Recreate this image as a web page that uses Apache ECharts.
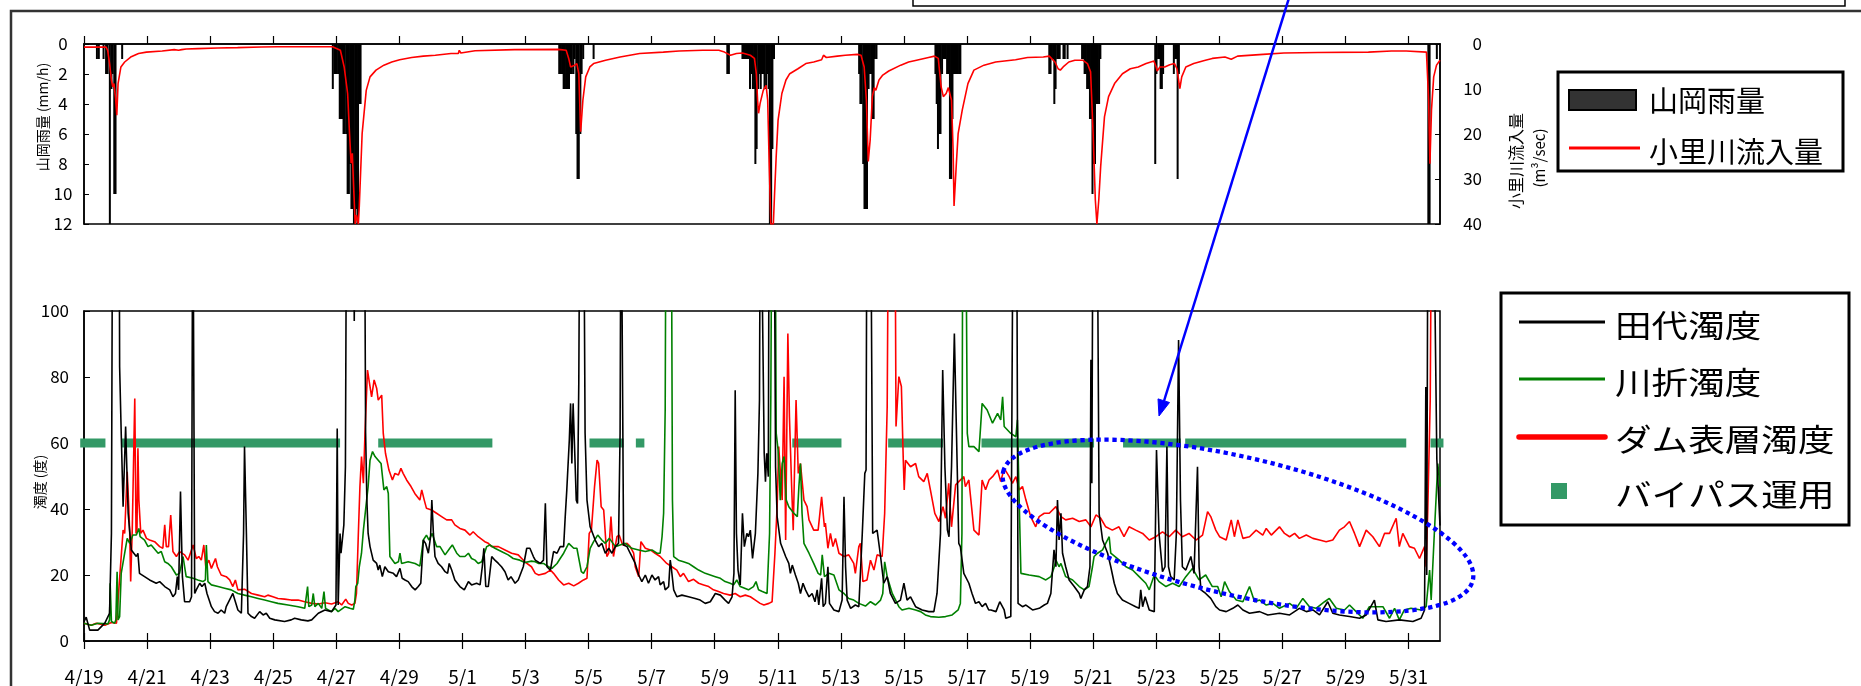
<!DOCTYPE html>
<html>
<head>
<meta charset="utf-8">
<script src="https://cdn.jsdelivr.net/npm/echarts@6/dist/echarts.min.js"></script>
<style>
html,body{margin:0;padding:0;background:#fff;}
#c{width:1861px;height:686px;}
</style>
</head>
<body>
<div id="c"></div>
<script>
// Day offsets are counted from 4/19 00:00 (0) to 6/1 00:00 (43).
const dateLabels = ['4/19','4/21','4/23','4/25','4/27','4/29','5/1','5/3','5/5','5/7','5/9',
  '5/11','5/13','5/15','5/17','5/19','5/21','5/23','5/25','5/27','5/29','5/31'];

// 山岡雨量 (mm/h), hourly
const rainfall = [
 [0.41,1],[0.47,1],[0.62,1],[0.70,2],[0.75,2],[0.82,12],[0.87,3],[0.91,2],[0.96,10],[1.00,10],[1.21,1],
 [7.89,3],[7.94,2],[7.98,2],[8.02,2],[8.07,2],[8.11,5],[8.15,5],[8.19,5],[8.23,6],[8.27,6],[8.32,6],[8.36,10],
 [8.40,10],[8.44,8],[8.48,11],[8.52,11],[8.56,12],[8.61,12],[8.65,11],[8.69,12],[8.73,4],[8.77,4],
 [15.07,2],[15.12,2],[15.16,2],[15.21,3],[15.25,3],[15.29,3],[15.34,3],[15.38,3],[15.43,2],[15.47,2],[15.52,2],
 [15.56,1],[15.61,6],[15.65,9],[15.69,9],[15.74,6],[15.78,2],[15.83,1],[16.16,1],
 [20.40,2],[20.45,2],[20.88,1],[20.92,1],[20.96,1],[21.00,1],[21.04,1],[21.08,1],[21.12,3],[21.17,2],[21.21,3],
 [21.25,3],[21.29,8],[21.33,7],[21.38,3],[21.42,2],[21.46,3],[21.50,2],[21.54,2],[21.58,3],[21.63,3],[21.67,2],
 [21.71,3],[21.75,12],[21.79,12],[21.83,7],[21.88,1],
 [24.58,2],[24.62,4],[24.66,4],[24.71,8],[24.75,11],[24.79,11],[24.83,11],[24.88,3],[24.92,2],[24.96,2],[25.00,5],
 [25.04,5],[25.08,1],[25.13,1],
 [27.00,2],[27.04,4],[27.08,7],[27.12,6],[27.16,6],[27.21,2],[27.25,1],[27.29,1],[27.33,1],[27.37,2],[27.42,2],
 [27.46,9],[27.50,9],[27.54,5],[27.58,2],[27.62,2],[27.67,2],[27.71,2],[27.75,2],[27.79,2],
 [30.61,2],[30.65,2],[30.69,1],[30.73,1],[30.77,4],[30.81,3],[30.86,1],[30.90,1],[30.94,1],[31.06,1],[31.10,1],[31.19,1],
 [31.65,1],[31.69,1],[31.73,2],[31.77,2],[31.81,3],[31.86,3],[31.90,5],[31.94,5],[31.98,10],[32.02,8],[32.06,8],
 [32.10,4],[32.15,4],[32.19,4],[32.23,1],
 [33.97,8],[34.01,2],[34.06,1],[34.10,1],[34.14,3],[34.18,3],[34.22,2],[34.56,2],[34.60,1],[34.64,1],[34.68,9],[34.72,2],
 [42.63,12],[42.67,12],[42.90,1]
];

// 小里川流入量 (m3/sec)
const inflow = [
 [0,0.7],[0.70,0.7],[0.75,1.4],[0.81,4.3],[0.87,8],[0.91,9.5],[0.95,8.8],[1.00,12],[1.04,15.8],[1.08,8.8],[1.17,5.1],
 [1.29,4.0],[1.48,2.9],[1.73,2.1],[1.98,1.8],[2.48,1.55],[2.86,1.25],[3.00,1.4],[3.10,1.25],[3.24,1.1],[3.61,1.03],
 [4.24,0.9],[4.87,0.8],[5.62,0.66],[6.12,0.6],[7.88,0.6],
 [8.13,1.4],[8.25,5.1],[8.36,11],[8.42,19.9],[8.47,26.5],[8.51,24.3],[8.55,31.7],[8.60,40],[8.64,38],[8.70,40],[8.73,36],
 [8.82,19.9],[8.95,10.3],[9.07,7.3],[9.26,5.8],[9.51,4.7],[9.76,4.0],[10.01,3.5],[10.39,3.0],[10.76,2.7],[11.14,2.5],
 [11.64,2.1],[11.87,2.1],[11.90,1.4],[11.95,2.0],[12.40,1.5],[13.65,1.25],[15.04,1.2],
 [15.29,1.4],[15.37,3.2],[15.43,5.1],[15.56,4.7],[15.63,4.35],[15.69,6.6],[15.75,19.5],[15.82,12.5],[15.91,7.3],
 [16.04,5.1],[16.16,4.35],[16.54,3.6],[17.00,2.9],[17.62,2.1],[18.37,1.8],[18.87,1.55],[19.62,1.4],[20.13,1.4],
 [20.31,1.8],[20.50,2.5],[20.69,2.1],[20.88,2.0],[21.13,2.5],[21.26,3.2],[21.32,6.6],[21.36,12.5],[21.39,15.4],
 [21.44,13.2],[21.54,10.3],[21.63,9.2],[21.68,12.5],[21.73,27.2],[21.78,40],[21.86,40],[21.90,33],[21.95,25],
 [22.01,16.9],[22.13,11],[22.26,8],[22.38,6.6],[22.64,5.5],[22.89,4.35],[23.14,4.0],[23.39,3.5],[23.45,2.5],
 [23.54,3.0],[23.89,2.7],[24.14,2.5],[24.52,2.3],
 [24.64,2.5],[24.74,5.1],[24.81,12.5],[24.87,26.1],[24.93,21.3],[25.00,11.7],[25.06,9.7],[25.11,10.3],[25.21,8.0],
 [25.33,6.9],[25.52,6.0],[25.90,4.7],[26.15,4.0],[26.40,3.6],[26.78,3.0],[26.97,2.7],
 [27.09,3.2],[27.18,9.5],[27.25,11.7],[27.34,11.0],[27.41,9.7],[27.51,12.5],[27.56,23.5],[27.59,36],[27.66,27],
 [27.72,19.9],[27.85,14.7],[28.03,8.8],[28.22,5.8],[28.54,4.7],[28.91,4.0],[29.54,3.5],[29.92,3.0],[30.42,2.9],[30.61,2.7],
 [30.67,3.0],[30.79,4.0],[30.89,5.5],[30.96,5.8],[31.05,5.1],[31.23,4.0],[31.42,3.6],[31.67,3.6],[31.82,4.35],
 [31.92,6.2],[32.00,19.9],[32.07,34.6],[32.12,40],[32.18,34.6],[32.24,27.2],[32.36,16.2],[32.49,11.7],[32.68,8.8],
 [32.93,6.6],[33.18,5.5],[33.43,5.1],[33.68,4.35],[33.93,3.8],
 [34.00,5.1],[34.03,6.0],[34.12,5.1],[34.18,4.7],[34.27,5.1],[34.43,4.6],[34.58,4.35],[34.66,5.5],[34.75,9.9],
 [34.81,7.3],[34.94,5.1],[35.19,4.35],[35.56,3.6],[35.78,3.2],[36.18,2.9],[36.38,3.4],[36.58,2.7],[37.39,2.3],
 [38.05,2.0],[39.12,1.9],[40.73,1.8],[41.46,1.55],[41.93,1.55],[42.57,1.8],[42.64,12.5],[42.68,26.6],[42.73,14.7],
 [42.80,7.3],[42.89,4.7],[43.00,3.6]
];

// 田代濁度 (度)
const tashiro = [
 [0,5.9],[0.07,7.2],[0.18,3.3],[0.44,3.3],[0.66,5.4],[0.81,8.4],[0.87,32.6],[0.91,150],[1.11,150],[1.13,83],[1.18,63],
 [1.24,40.7],[1.32,65],[1.40,38.7],[1.50,27.6],[1.66,25.6],[1.71,26.6],[1.76,20.5],[1.92,19.5],[2.08,18.5],[2.29,17.5],
 [2.40,18],[2.56,16.5],[2.72,15.5],[2.82,13.4],[2.90,14.4],[2.96,19.5],[3.00,15.5],[3.06,45.3],[3.12,19.5],[3.19,11.9],
 [3.35,11.9],[3.41,13.4],[3.45,150],[3.48,150],[3.51,14.4],[3.56,15.5],[3.67,17.5],[3.74,16.5],[3.83,17.5],[3.90,14.4],
 [4.04,10.4],[4.14,8.9],[4.25,8.4],[4.35,9.4],[4.46,8.4],[4.51,10.4],[4.72,14.4],[4.88,9.4],[4.99,8.4],[5.06,32.6],
 [5.09,58.9],[5.15,32.6],[5.20,8.4],[5.31,7.4],[5.41,6.9],[5.57,8.9],[5.68,7.9],[5.78,8.4],[5.89,6.9],[6.05,6.4],
 [6.36,5.9],[6.57,6.4],[6.68,6.9],[6.89,6.4],[7.10,6.1],
 [7.22,6.4],[7.43,8.4],[7.64,9.4],[7.85,8.9],[7.99,10.9],[8.03,64.4],[8.06,10.9],[8.12,32.6],[8.15,26.6],[8.24,35.2],
 [8.29,52.8],[8.33,150],[8.54,150],[8.57,97],[8.61,150],[8.89,150],[8.93,63],[8.97,42.7],[9.01,32.6],[9.07,28.6],
 [9.17,24.5],[9.28,23.5],[9.33,21.5],[9.38,23],[9.46,19.5],[9.54,22.5],[9.65,21],[9.81,20.5],[9.91,19.5],[10.02,22],
 [10.09,19],[10.18,18.5],[10.28,18],[10.39,16.5],[10.50,15.5],[10.60,16.5],[10.68,17.5],[10.76,30.6],[10.83,29.6],
 [10.92,26.6],[10.99,31.6],[11.03,42.7],[11.08,32.6],[11.13,25.6],[11.23,23.5],[11.34,22.5],[11.45,21],[11.53,20.5],
 [11.58,23.5],[11.66,21.5],[11.76,18.5],[11.92,16.5],[12.06,15.5],[12.19,18],[12.29,17],[12.45,17.5],[12.56,17],
 [12.63,22.5],[12.68,28.1],[12.74,16.5],[12.82,16.5],[12.93,25.6],[13.03,24.5],[13.14,23.5],[13.24,22.5],[13.35,21],
 [13.45,18.5],[13.54,19.5],[13.67,17.5],[13.77,18.5],[13.93,22.5],[14.04,28.1],[14.14,28.1],[14.25,25.6],
 [14.31,24.5],[14.47,23.5],[14.57,24.5],[14.63,41.7],[14.68,22.5],[14.79,21.5],[14.89,27.1],[15.00,26.6],[15.10,28.6],
 [15.21,28.6],[15.26,37.7],[15.31,45.8],[15.39,60.9],[15.43,72],[15.47,53.8],[15.51,72],[15.57,54.8],[15.61,42.7],
 [15.65,41.7],[15.69,78],[15.73,150],[15.84,150],[15.89,63],[15.95,42.7],[16.05,34.6],[16.21,30.6],[16.32,28.6],
 [16.42,29.6],[16.53,26.6],[16.64,28.1],[16.74,26.6],[16.85,28.6],[16.95,29.6],[17.00,63],[17.03,150],[17.07,150],
 [17.11,29.1],[17.22,28.6],[17.32,26.6],[17.43,24.5],[17.48,23.5],[17.59,20],[17.69,18],[17.80,20],[17.90,17.5],
 [18.01,20],[18.11,18.5],[18.22,19.5],[18.27,17],[18.38,18],[18.43,15.5],[18.54,16.5],[18.59,24.5],[18.62,22.5],
 [18.70,15.5],[18.80,13.4],[18.96,13.9],[19.17,13.4],[19.38,12.9],[19.54,12.4],[19.70,11.4],[19.86,11.9],[20.02,14.4],
 [20.18,13.9],[20.33,12.4],[20.44,11.4],[20.55,13.4],[20.61,20.5],[20.65,76],[20.69,32.6],[20.74,21.5],[20.81,17],
 [20.88,38.7],[20.94,28.6],[21.02,32.6],[21.07,31.6],[21.13,33.6],[21.20,25],[21.29,32.6],[21.37,50.8],[21.42,73],
 [21.45,150],[21.51,150],[21.53,89],[21.57,56.9],[21.61,48.3],[21.65,56.9],[21.70,49.8],[21.73,150],[21.88,150],
 [21.93,52.8],[21.98,37.7],[22.09,29.6],[22.25,25.6],[22.35,23.5],[22.40,20.5],[22.46,23],[22.56,20],[22.65,17.5],
 [22.72,14.4],[22.80,17.5],[22.88,15.5],[22.99,13.4],[23.09,14.4],[23.18,11.9],[23.25,15.5],[23.30,10.9],[23.39,19],
 [23.44,10.4],[23.51,11.4],[23.59,22.5],[23.64,11.4],[23.78,9.4],[23.94,8.9],[24.04,12.4],[24.10,43.7],[24.15,22.5],
 [24.20,12.4],[24.31,9.9],[24.46,10.9],[24.57,10.4],[24.68,32.6],[24.76,50.8],[24.80,51.8],[24.83,150],[24.94,150],
 [25.01,32.6],[25.15,33.6],[25.26,25.6],[25.36,17.5],[25.47,19.5],[25.57,14.4],[25.73,11.4],[25.89,12.4],[26.00,17.5],
 [26.10,12.4],[26.21,13.4],[26.37,10.4],[26.58,9.4],[26.79,8.9],[26.95,8.9],[27.05,14.4],[27.16,32.6],[27.23,82.1],
 [27.30,52.8],[27.38,33.6],[27.43,31.6],[27.51,52.8],[27.60,93.2],[27.69,52.8],[27.74,29.6],[27.79,28.6],[27.90,20.5],
 [28.06,17.5],[28.16,14.4],[28.27,11.4],[28.38,11.9],[28.48,10.4],[28.59,11.4],[28.69,9.4],
 [28.76,9.4],[28.92,8.9],[29.04,11.9],[29.18,9.4],[29.23,6.9],[29.39,7.4],[29.43,6.9],[29.47,150],[29.57,150],
 [29.62,11.4],[29.76,10.4],[29.87,10.9],[30.08,9.4],[30.29,9.9],[30.45,10.9],[30.55,11.4],[30.66,14.4],[30.76,27.6],
 [30.82,22.5],[30.87,42.7],[30.92,30.6],[30.98,38.7],[31.03,26.6],[31.13,22.5],[31.24,18.5],[31.40,16.5],[31.56,14.4],
 [31.61,12.9],[31.72,15.5],[31.82,16.5],[31.90,22.5],[31.93,85.2],[31.96,47.8],[32.00,150],[32.12,150],[32.19,38.7],
 [32.30,30.6],[32.46,26.6],[32.56,22.5],[32.67,17.5],[32.77,14.4],[32.93,12.4],[33.14,11.4],[33.35,10.4],[33.46,9.9],
 [33.51,15.5],[33.57,10.4],[33.65,13.4],[33.78,9.4],[33.94,8.9],[34.01,57.9],[34.09,32.6],[34.20,21],[34.28,22.5],
 [34.34,58.9],[34.39,22.5],[34.46,19.5],[34.57,18.5],[34.64,32.6],[34.71,91.2],[34.77,42.7],[34.83,22.5],[34.94,21.5],
 [35.10,25.6],[35.20,20.5],[35.31,52.8],[35.36,22.5],[35.42,15.5],[35.57,14.4],[35.73,12.9],[35.89,10.4],
 [36.01,9.4],[36.22,8.9],[36.43,9.9],[36.59,10.9],[36.75,9.4],[36.96,8.4],[37.28,8.9],[37.54,7.9],[37.91,8.4],
 [38.23,7.9],[38.54,9.9],[38.76,8.9],[38.97,9.4],[39.18,7.9],[39.44,11.9],[39.60,8.4],[39.81,7.9],[40.13,7.4],
 [40.45,6.9],[40.66,7.9],[40.92,12.4],[41.03,6.4],[41.29,5.9],[41.71,6.4],[42.14,5.9],[42.40,6.9],[42.51,9.4],
 [42.55,77],[42.58,20],[42.62,150],[42.78,150],[42.90,55],[43.00,35]
];

// 川折濁度 (度)
const kawaori = [
 [0,5.4],[0.23,4.8],[0.44,5.4],[0.76,5.2],[0.81,6.4],[0.83,17.5],[0.87,5.9],[0.97,5.4],[1.01,6.4],[1.05,21],[1.08,6.4],
 [1.13,7.4],[1.18,20.5],[1.29,26.6],[1.37,31.1],[1.45,29.6],[1.55,32.1],[1.66,32.1],[1.71,32.6],[1.74,34.1],[1.78,31.6],
 [1.92,30.6],[2.03,28.6],[2.13,29.1],[2.35,26.6],[2.45,27.1],[2.56,24],[2.66,23.5],[2.77,22.5],[2.93,20],[3.03,20.5],
 [3.14,25.6],[3.24,19.5],[3.46,19],[3.61,18.5],[3.77,18],[3.85,18.5],[3.88,29.1],[3.93,18],[4.04,17],[4.25,16.5],
 [4.46,16],[4.67,15.5],[4.88,14.4],[5.09,13.9],[5.31,13.4],[5.52,12.9],[5.73,12.4],[5.94,11.9],[6.15,11.4],[6.47,10.9],
 [6.79,10.4],[7.00,9.9],[7.06,9.9],[7.09,16.5],[7.13,10.4],[7.22,10.9],[7.27,14.4],[7.32,10.4],[7.43,11.4],[7.54,9.9],
 [7.61,15],[7.66,9.9],[7.85,8.9],[7.96,9.9],[8.06,8.9],[8.28,10.4],[8.43,9.9],[8.54,9.6],[8.59,12.4],[8.62,16.5],
 [8.68,17.5],[8.73,22.5],[8.80,26.6],[8.86,33.6],[8.94,40.7],[9.01,46.8],[9.07,54.8],[9.15,57.4],[9.23,55.9],[9.33,54.8],
 [9.42,53.8],[9.51,45.8],[9.60,46.8],[9.65,44.7],[9.70,25.6],[9.86,23.5],[9.97,24],[10.02,26.6],[10.07,23.5],[10.28,24],
 [10.50,23.5],[10.65,22.7],[10.76,30.6],[10.86,32.1],[10.94,30.6],[11.04,32.6],[11.18,28.6],[11.29,28.6],[11.45,26.1],
 [11.60,28.1],[11.68,29.1],[11.82,26.6],[11.92,25.6],[12.08,25.6],[12.19,26.6],[12.29,25],[12.40,24.5],[12.50,23.5],
 [12.61,24],[12.77,28.6],[12.87,29.1],[13.03,28.1],[13.14,27.6],[13.30,26.8],[13.45,26.1],[13.61,25],[13.82,24.5],
 [13.98,23.8],[14.19,24.2],
 [14.31,24],[14.42,23.5],[14.57,23.5],[14.73,22.5],[14.84,22],[15.00,23.5],[15.10,25],[15.21,26.6],[15.37,29.6],
 [15.53,28.1],[15.63,28.1],[15.77,21],[15.84,20.5],[15.95,22.5],[16.05,28.1],[16.16,30.1],[16.29,32.1],[16.42,30.6],
 [16.53,29.6],[16.66,31.1],[16.85,28.6],[17.00,29.1],[17.16,29.6],[17.37,28.1],[17.59,27.6],[17.80,27.1],[18.01,27.6],
 [18.17,26.6],[18.27,26.6],[18.33,31.6],[18.38,38.7],[18.43,70],[18.46,150],[18.62,150],[18.66,42.7],[18.70,25.6],
 [18.85,24.5],[19.01,24],[19.17,23.5],[19.33,22.5],[19.49,21.5],[19.70,20.5],[19.86,20],[20.02,19.5],[20.18,19],
 [20.33,18],[20.49,17.5],[20.60,17],[20.70,18.5],[20.81,16.5],[21.07,15.5],[21.23,16.5],[21.31,18],[21.39,15.5],
 [21.51,15],[21.66,14.4],[21.74,32.6],[21.78,74],[21.82,150],[21.91,150],[21.95,63],[22.01,57.9],[22.08,42.7],
 [22.14,53.8],[22.20,55.9],[22.27,42.7],[22.35,40.7],[22.51,38.7],[22.62,37.7],[22.67,46.8],[22.72,53.8],[22.77,38.7],
 [22.83,29.6],[22.99,26.6],[23.14,23.5],[23.28,20.5],[23.36,20],[23.41,26.1],[23.48,19.5],[23.62,20.5],[23.78,20],
 [23.94,15.5],[24.10,14.4],[24.25,12.9],[24.41,12.4],[24.57,11.4],[24.78,10.6],[24.94,11.9],[25.10,10.9],[25.26,12.4],
 [25.33,14.4],[25.39,24],[25.47,19.5],[25.63,14.4],[25.84,10.4],[25.94,9.4],[26.16,9.9],[26.37,9.4],[26.53,8.9],
 [26.68,7.9],[26.84,7.4],[27.11,7.2],[27.32,7.4],[27.53,7.9],[27.72,9.4],[27.79,11.4],[27.84,32.6],[27.87,150],
 [27.95,150],[28.01,62.9],[28.06,58.9],[28.22,58.9],[28.38,57.4],[28.48,72],[28.64,70],
 [28.70,70],[28.81,66],[28.97,69],[29.07,67],[29.13,74],[29.18,65],[29.39,62.9],[29.55,61.9],[29.60,67],[29.66,40.7],
 [29.71,20.5],[29.97,20],[30.29,19.5],[30.50,18.5],[30.66,19.5],[30.77,22.5],[30.82,24.5],[30.92,22.5],[30.98,23.5],
 [31.13,19.5],[31.35,18.5],[31.56,16.5],[31.72,15.5],[31.87,16.5],[31.98,22.5],[32.03,25.6],[32.14,26.6],[32.30,27.6],
 [32.40,29.6],[32.51,31.6],[32.56,26.6],[32.62,26.6],[32.83,24.5],[33.04,22.5],[33.25,21.5],[33.46,19.5],[33.67,17.5],
 [33.78,15.5],[33.94,20],[34.09,18],[34.31,16.5],[34.52,17.5],[34.73,16.5],[34.94,19.5],[35.15,22],[35.36,18.5],
 [35.57,20],[35.78,16.5],
 [35.95,16.5],[36.06,13.4],[36.17,18],[36.32,15],[36.54,12.4],[36.75,11.9],[36.96,16.5],[37.12,11.9],[37.28,12.4],
 [37.49,10.9],[37.70,11.4],[37.91,9.9],[38.23,11.4],[38.44,9.9],[38.65,12.9],[38.86,10.4],[39.07,9.9],[39.34,11.9],
 [39.49,12.9],[39.71,9.9],[39.97,9.4],[40.13,10.9],[40.34,8.9],[40.55,6.9],[40.76,10.4],[40.97,10.4],[41.19,10.4],
 [41.40,6.9],[41.56,9.9],[41.71,6.4],[41.87,9.4],[42.08,9.9],[42.40,9.4],[42.56,10.4],[42.67,21.5],[42.72,12.4],
 [42.82,32.6],[42.93,53.8],[43.00,46.8]
];

// ダム表層濁度 (度)
const damSurface = [
 [0,5.4],[0.23,4.8],[0.39,5.4],[0.66,4.8],[0.87,5.6],[1.03,5.4],[1.08,12.4],[1.24,33.6],[1.29,32.6],[1.37,51.3],
 [1.42,40.7],[1.45,32.6],[1.48,18],[1.53,33.6],[1.61,73.5],[1.65,32.6],[1.68,33.6],[1.71,58.4],[1.74,42.7],[1.80,32.6],
 [1.87,33.6],[1.98,31.1],[2.08,30.6],[2.24,30.1],[2.40,28.6],[2.50,28.1],[2.56,35.2],[2.61,28.6],[2.68,28.6],[2.75,38.2],
 [2.82,27.1],[2.93,25.6],[3.03,27.1],[3.19,26.1],[3.30,24.5],[3.46,29.1],[3.56,25],[3.64,25.6],[3.72,24.5],[3.80,29.1],
 [3.86,22.5],[3.96,24.5],[4.04,22],[4.17,25],[4.23,22.5],[4.35,20],[4.51,19.5],[4.62,18.5],[4.72,16.5],[4.80,18.5],
 [4.88,15.5],[5.09,15.7],[5.31,14.4],[5.52,13.9],[5.73,13.4],[5.83,13.9],[5.99,13.4],[6.15,12.9],[6.36,12.7],[6.57,12.4],
 [6.79,12.4],[7.00,11.9],[7.22,11.4],[7.43,11.2],[7.64,11.6],[7.85,11.2],[8.06,11.9],[8.17,10.9],[8.30,12.7],[8.38,11.4],
 [8.49,10.9],[8.59,11.4],[8.64,14.4],[8.70,32.6],[8.75,46.8],[8.80,55.9],[8.86,47.8],[8.91,62.9],[8.96,75],[8.99,82.1],
 [9.07,77.1],[9.12,74],[9.20,79.1],[9.28,76.6],[9.33,73],[9.38,73],[9.44,74.5],[9.49,62.9],[9.56,56.9],[9.67,51.8],
 [9.78,48.8],[9.86,50.8],[9.97,50.3],[10.05,52.3],[10.12,50.8],[10.23,48.8],[10.37,46.8],[10.49,44.7],[10.65,42.7],
 [10.71,45.8],[10.79,42.7],[10.86,40.2],[11.02,39.7],[11.18,38.7],[11.34,37.7],[11.50,36.7],[11.66,36.7],[11.76,35.2],
 [11.92,34.1],[12.08,33.6],[12.24,32.1],[12.34,33.1],[12.50,31.6],[12.71,30.1],[12.82,29.6],[12.93,28.6],[13.14,28.6],
 [13.35,27.6],[13.56,26.6],[13.77,26.1],[13.98,24],[14.19,22.5],
 [14.31,20.5],[14.42,20],[14.63,20.5],[14.79,21.5],[14.89,20.5],[15.05,18.5],[15.21,17],[15.37,17.5],[15.53,16.7],
 [15.68,17.5],[15.84,18.5],[15.95,19],[16.02,32.6],[16.09,33.6],[16.19,46.8],[16.27,54.8],[16.32,53.8],[16.40,40.7],
 [16.48,39.7],[16.58,25.6],[16.64,26.6],[16.71,37.7],[16.79,25.6],[16.90,31.6],[16.97,32.1],[17.08,29.1],[17.22,29.6],
 [17.32,28.6],[17.43,26.6],[17.48,22.5],[17.59,19.5],[17.66,30.1],[17.80,28.1],[17.96,27.6],[18.11,26.6],[18.27,25.6],
 [18.48,23.5],[18.64,22.5],[18.80,21.5],[18.91,19.5],[19.01,20.5],[19.17,18],[19.33,18.7],[19.49,17.5],[19.65,17],
 [19.81,16.5],[19.96,15.5],[20.12,15],[20.28,14.4],[20.49,13.9],[20.65,14.4],[20.81,13.4],[20.97,13.9],[21.13,13.4],
 [21.29,12.4],[21.44,11.4],[21.56,10.9],[21.72,11.4],[21.82,11.9],[21.91,26.6],[21.98,40.7],[22.03,58.9],[22.09,58.9],
 [22.14,42.7],[22.20,80.1],[22.25,30.6],[22.32,93.2],[22.37,68],[22.44,46.8],[22.49,33.6],[22.58,73],[22.65,50.8],
 [22.72,53.8],[22.83,42.7],[22.93,40.7],[22.99,36.7],[23.14,33.6],[23.28,33.6],[23.39,43.7],[23.48,34.6],[23.51,35.7],
 [23.59,28.1],[23.67,32.6],[23.75,28.6],[23.83,31.1],[23.94,26.6],[24.10,25.6],[24.25,26.1],[24.41,23.5],[24.46,20.5],
 [24.57,28.6],[24.62,29.6],[24.70,18],[24.83,18.5],[24.94,24.5],[25.05,21.5],[25.15,26.1],[25.31,25.6],[25.39,38.7],
 [25.47,71],[25.52,150],[25.71,150],[25.75,65],[25.84,80.1],[25.92,77.1],[25.98,54.8],[26.01,45.8],[26.05,54.8],
 [26.21,52.8],[26.37,53.8],[26.47,49.8],[26.63,48.3],[26.74,50.8],[26.84,45.8],[26.98,38.7],[27.11,36.2],[27.24,40.7],
 [27.32,37.2],[27.42,47.8],[27.51,34.6],[27.64,47.3],[27.74,48.3],[27.90,49.8],[27.95,46.8],[28.06,48.8],[28.22,33.6],
 [28.38,32.1],[28.48,48.8],[28.59,45.8],
 [28.70,48.8],[28.81,49.8],[28.97,51.8],[29.07,48.3],[29.18,52.3],[29.34,49.8],[29.44,47.8],[29.55,49.8],[29.66,45.8],
 [29.76,46.8],[29.87,42.7],[30.02,37.7],[30.18,34.6],[30.29,37.7],[30.45,38.7],[30.61,38.7],[30.82,40.7],[30.98,37.7],
 [31.13,36.7],[31.35,37.2],[31.56,36.2],[31.77,36.7],[31.93,34.6],[32.09,38.2],[32.24,37.2],[32.40,34.6],[32.61,33.6],
 [32.82,34.6],[32.98,31.6],[33.14,34.6],[33.35,33.6],[33.57,32.6],[33.78,30.6],[33.99,31.6],[34.20,33.1],[34.41,31.6],
 [34.62,33.6],[34.83,31.6],[35.04,32.6],[35.26,30.6],[35.47,32.1],[35.63,39.2],[35.73,37.7],[35.89,33.6],
 [36.01,31.6],[36.22,30.6],[36.38,36.7],[36.48,31.6],[36.59,36.7],[36.75,31.1],[36.96,31.6],[37.17,33.6],[37.38,32.1],
 [37.49,34.1],[37.65,32.1],[37.91,34.6],[38.07,32.6],[38.23,31.6],[38.39,32.6],[38.54,31.1],[38.76,32.1],[38.97,31.1],
 [39.18,30.6],[39.39,30.1],[39.60,30.6],[39.81,33.6],[39.97,34.6],[40.13,36.2],[40.29,32.6],[40.45,28.6],[40.66,33.6],
 [40.87,31.6],[41.08,28.6],[41.24,32.6],[41.40,32.6],[41.61,37.2],[41.71,28.6],[41.82,32.6],[42.03,28.6],[42.19,28.1],
 [42.35,25],[42.51,28.6],[42.56,22.5],[42.61,38.7],[42.69,73],[42.74,150],[43.00,150]
];

// バイパス運用 periods [start day, end day], drawn at the 60 level
const bypassPeriods = [
 [-0.12,0.68],[1.18,8.12],[9.33,12.95],[16.03,17.11],[17.5,17.77],[22.46,24.02],
 [25.5,27.24],[28.46,32.03],[32.95,34.78],[34.92,41.93],[42.7,43.11]
];
const BYPASS_LEVEL = 60;

const FONT = '"Noto Sans CJK JP", "Noto Sans", sans-serif';
const tickDays = dateLabels.map((_, i) => i * 2);

const bypassLine = [];
bypassPeriods.forEach((p, i) => {
  bypassLine.push([p[0], BYPASS_LEVEL], [p[1], BYPASS_LEVEL]);
  if (i < bypassPeriods.length - 1) bypassLine.push([(p[1] + bypassPeriods[i + 1][0]) / 2, '-']);
});

const axisLineStyle = { color: '#000', width: 1.5 };
const labelBase = { color: '#000', fontFamily: FONT };

const option = {
  animation: false,
  backgroundColor: '#fff',
  textStyle: { fontFamily: FONT },
  grid: [
    { left: 84, top: 44, width: 1356, height: 180, show: true, borderColor: '#000', borderWidth: 1.5, backgroundColor: 'transparent' },
    { left: 84, top: 311, width: 1356, height: 330, show: true, borderColor: '#000', borderWidth: 1.5, backgroundColor: 'transparent' }
  ],
  xAxis: [
    { gridIndex: 0, type: 'value', min: 0, max: 43, position: 'top',
      axisLine: { show: true, lineStyle: axisLineStyle },
      axisTick: { show: true, inside: false, length: 8, customValues: tickDays, lineStyle: { color: '#000', width: 1.2 } },
      axisLabel: { show: false }, splitLine: { show: false } },
    { gridIndex: 1, type: 'value', min: 0, max: 43, position: 'bottom',
      axisLine: { show: true, lineStyle: axisLineStyle },
      axisTick: { show: true, inside: false, length: 8, customValues: tickDays, lineStyle: { color: '#000', width: 1.2 } },
      axisLabel: Object.assign({ fontSize: 19, margin: 26, customValues: tickDays,
        formatter: v => dateLabels[Math.round(v / 2)] }, labelBase),
      splitLine: { show: false } },
    { gridIndex: 1, type: 'value', min: 0, max: 43, position: 'bottom',
      axisLine: { show: false },
      axisTick: { show: true, inside: true, length: 8, customValues: tickDays, lineStyle: { color: '#000', width: 1.2 } },
      axisLabel: { show: false }, splitLine: { show: false } }
  ],
  yAxis: [
    { gridIndex: 0, type: 'value', min: 0, max: 12, interval: 2, inverse: true, position: 'left',
      axisLine: { show: true, lineStyle: axisLineStyle },
      axisTick: { show: true, inside: true, length: 5, lineStyle: { color: '#000' } },
      axisLabel: Object.assign({ fontSize: 17, margin: 21, align: 'center' }, labelBase),
      splitLine: { show: false } },
    { gridIndex: 0, type: 'value', min: 0, max: 40, interval: 10, inverse: true, position: 'right',
      axisLine: { show: true, lineStyle: axisLineStyle },
      axisTick: { show: true, inside: true, length: 5, lineStyle: { color: '#000' } },
      axisLabel: Object.assign({ fontSize: 17, margin: 42, align: 'right' }, labelBase),
      splitLine: { show: false } },
    { gridIndex: 1, type: 'value', min: 0, max: 100, interval: 20, position: 'left',
      axisLine: { show: true, lineStyle: axisLineStyle },
      axisTick: { show: true, inside: true, length: 6, lineStyle: { color: '#000' } },
      axisLabel: Object.assign({ fontSize: 17, margin: 15 }, labelBase),
      splitLine: { show: false } }
  ],
  series: [
    { name: '山岡雨量', type: 'bar', xAxisIndex: 0, yAxisIndex: 0, data: rainfall, barWidth: 2,
      itemStyle: { color: '#000' }, z: 2 },
    { name: '小里川流入量', type: 'line', xAxisIndex: 0, yAxisIndex: 1, data: inflow, symbol: 'none',
      lineStyle: { color: '#ff0000', width: 1.6 }, z: 3 },
    { name: 'バイパス運用', type: 'line', xAxisIndex: 1, yAxisIndex: 2, data: bypassLine, symbol: 'none',
      connectNulls: false, clip: false,
      lineStyle: { color: '#339966', width: 9, cap: 'butt' }, z: 2 },
    { name: 'ダム表層濁度', type: 'line', xAxisIndex: 1, yAxisIndex: 2, data: damSurface, symbol: 'none',
      lineStyle: { color: '#ff0000', width: 1.6 }, z: 3 },
    { name: '川折濁度', type: 'line', xAxisIndex: 1, yAxisIndex: 2, data: kawaori, symbol: 'none',
      lineStyle: { color: '#008000', width: 1.6 }, z: 3 },
    { name: '田代濁度', type: 'line', xAxisIndex: 1, yAxisIndex: 2, data: tashiro, symbol: 'none',
      lineStyle: { color: '#000000', width: 1.6 }, z: 3 }
  ],
  graphic: [
    // page frame
    { type: 'polyline', z: 50, shape: { points: [[11, 690], [11, 11], [1865, 11]] },
      style: { stroke: '#333', lineWidth: 2.5, fill: 'none' } },
    { type: 'rect', z: 50, shape: { x: 913, y: -10, width: 932, height: 16 },
      style: { stroke: '#000', lineWidth: 1.5, fill: '#fff' } },

    // axis titles
    { type: 'text', z: 50, x: 43, y: 117, rotation: Math.PI / 2,
      style: { text: '山岡雨量 (mm/h)', font: '14px ' + FONT, fill: '#000', align: 'center', verticalAlign: 'middle' } },
    { type: 'text', z: 50, x: 40, y: 482, rotation: Math.PI / 2,
      style: { text: '濁度 (度)', font: '14px ' + FONT, fill: '#000', align: 'center', verticalAlign: 'middle' } },
    { type: 'text', z: 50, x: 1516, y: 161, rotation: Math.PI / 2,
      style: { text: '小里川流入量', font: '16px ' + FONT, fill: '#000', align: 'center', verticalAlign: 'middle' } },
    { type: 'text', z: 50, x: 1539, y: 158, rotation: Math.PI / 2,
      style: { text: '(m³/sec)', font: '15px ' + FONT, fill: '#000', align: 'center', verticalAlign: 'middle' } },

    // legend: rainfall / inflow
    { type: 'rect', z: 50, shape: { x: 1558, y: 72, width: 285, height: 99 },
      style: { stroke: '#000', lineWidth: 3, fill: '#fff' } },
    { type: 'rect', z: 51, shape: { x: 1569, y: 90, width: 67, height: 20 },
      style: { stroke: '#000', lineWidth: 2, fill: '#333' } },
    { type: 'text', z: 51, x: 1649, y: 101,
      style: { text: '山岡雨量', font: '29px ' + FONT, fill: '#000', align: 'left', verticalAlign: 'middle' } },
    { type: 'line', z: 51, shape: { x1: 1569, y1: 148, x2: 1640, y2: 148 },
      style: { stroke: '#ff0000', lineWidth: 3 } },
    { type: 'text', z: 51, x: 1649, y: 152,
      style: { text: '小里川流入量', font: '29px ' + FONT, fill: '#000', align: 'left', verticalAlign: 'middle' } },

    // legend: turbidity / bypass
    { type: 'rect', z: 50, shape: { x: 1501, y: 293, width: 348, height: 232 },
      style: { stroke: '#000', lineWidth: 3, fill: '#fff' } },
    { type: 'line', z: 51, shape: { x1: 1519, y1: 322, x2: 1605, y2: 322 }, style: { stroke: '#000', lineWidth: 3 } },
    { type: 'text', z: 51, x: 1615, y: 325, scaleX: 1.18,
      style: { text: '田代濁度', font: '31px ' + FONT, fill: '#000', align: 'left', verticalAlign: 'middle' } },
    { type: 'line', z: 51, shape: { x1: 1519, y1: 379, x2: 1605, y2: 379 }, style: { stroke: '#008000', lineWidth: 3 } },
    { type: 'text', z: 51, x: 1615, y: 382, scaleX: 1.18,
      style: { text: '川折濁度', font: '31px ' + FONT, fill: '#000', align: 'left', verticalAlign: 'middle' } },
    { type: 'line', z: 51, shape: { x1: 1519, y1: 437, x2: 1605, y2: 437 },
      style: { stroke: '#ff0000', lineWidth: 5.5, lineCap: 'round' } },
    { type: 'text', z: 51, x: 1615, y: 439, scaleX: 1.18,
      style: { text: 'ダム表層濁度', font: '31px ' + FONT, fill: '#000', align: 'left', verticalAlign: 'middle' } },
    { type: 'rect', z: 51, shape: { x: 1551, y: 483, width: 16, height: 16 }, style: { fill: '#339966' } },
    { type: 'text', z: 51, x: 1615, y: 494, scaleX: 1.18,
      style: { text: 'バイパス運用', font: '31px ' + FONT, fill: '#000', align: 'left', verticalAlign: 'middle' } },

    // dotted ellipse and arrow
    { type: 'ellipse', z: 60, x: 1238, y: 526, rotation: -13 * Math.PI / 180,
      shape: { cx: 0, cy: 0, rx: 241, ry: 69 },
      style: { fill: 'none', stroke: '#0000ff', lineWidth: 4.3, lineDash: [4.3, 3.7] } },
    { type: 'line', z: 60, shape: { x1: 1289, y1: -2, x2: 1164, y2: 401 },
      style: { stroke: '#0000ff', lineWidth: 2.5 } },
    { type: 'polygon', z: 60, shape: { points: [[1159, 416], [1169.5, 402.5], [1158, 398.9]] },
      style: { fill: '#0000ff', stroke: '#0000ff', lineWidth: 1 } }
  ]
};

const chart = echarts.init(document.getElementById('c'), null, { renderer: 'canvas', width: 1861, height: 686 });
chart.setOption(option);
</script>
</body>
</html>
